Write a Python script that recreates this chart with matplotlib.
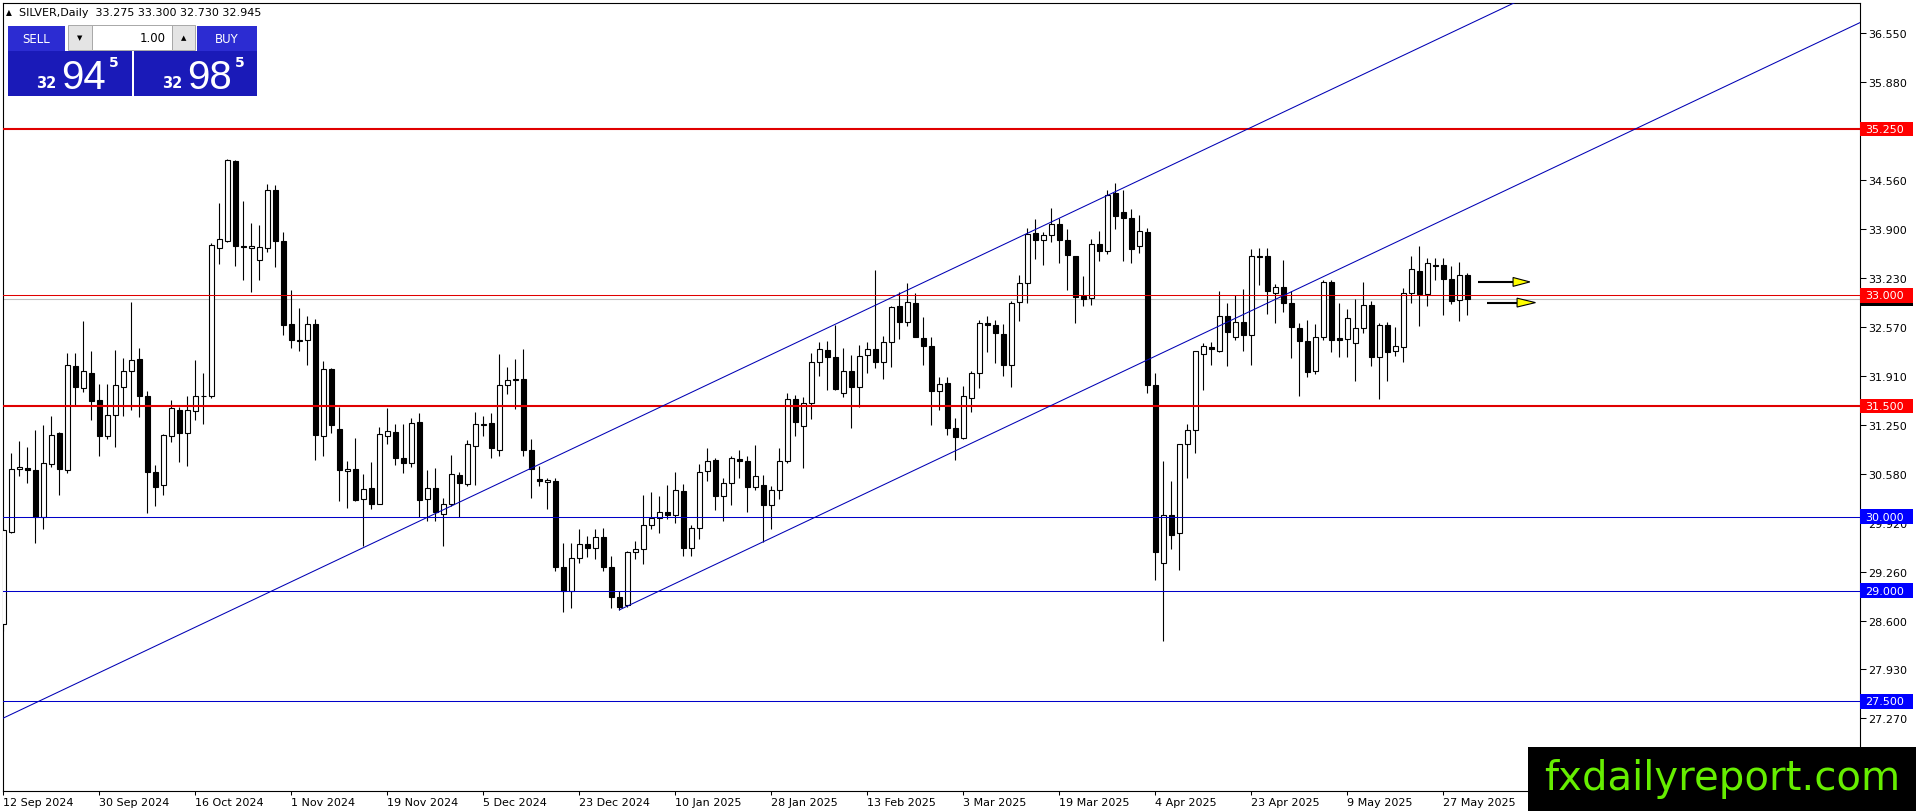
import matplotlib
matplotlib.use("Agg")
import matplotlib.pyplot as plt
from matplotlib.patches import Rectangle, Polygon
import matplotlib.transforms as mtransforms
import numpy as np

# ---------------- data (SILVER, Daily) ----------------
opens = [28.55, 29.80, 30.65, 30.66, 30.64, 30.00, 30.71, 31.13, 30.64, 32.04,
         31.75, 31.95, 31.58, 31.09, 31.38, 31.76, 31.97, 32.13, 31.63, 30.60,
         30.43, 31.10, 31.44, 31.13, 31.43, 31.64, 31.64, 33.64, 33.74, 34.82,
         33.66, 33.64, 33.47, 33.64, 34.42, 33.74, 32.61, 32.38, 32.39, 32.61,
         31.10, 32.00, 31.19, 30.62, 30.65, 30.24, 30.39, 30.18, 31.10, 31.15,
         30.80, 30.73, 31.28, 30.24, 30.39, 30.04, 30.17, 30.57, 30.45, 30.96,
         31.24, 31.27, 30.90, 31.78, 31.85, 31.86, 30.90, 30.51, 30.47, 30.48,
         29.32, 28.99, 29.44, 29.63, 29.58, 29.73, 29.32, 28.92, 28.80, 29.53,
         29.56, 29.89, 29.99, 30.06, 30.02, 30.35, 29.58, 29.85, 30.62, 30.77,
         30.28, 30.46, 30.78, 30.75, 30.40, 30.43, 30.16, 30.36, 30.75, 31.59,
         31.23, 31.54, 32.10, 32.26, 32.16, 31.67, 31.98, 31.76, 32.19, 32.27,
         32.09, 32.36, 32.85, 32.64, 32.90, 32.42, 32.31, 31.70, 31.81, 31.20,
         31.07, 31.61, 31.95, 32.62, 32.60, 32.48, 32.05, 32.91, 33.17, 33.84,
         33.75, 33.82, 33.97, 33.75, 33.53, 32.99, 32.96, 33.69, 33.60, 34.38,
         34.12, 34.05, 33.66, 33.86, 31.78, 29.38, 30.03, 29.78, 30.98, 31.17,
         32.20, 32.30, 32.25, 32.72, 32.44, 32.64, 32.46, 33.53, 33.53, 33.03,
         33.11, 32.90, 32.56, 32.38, 31.98, 32.43, 33.18, 32.42, 32.41, 32.35,
         32.56, 32.87, 32.17, 32.60, 32.24, 32.30, 33.03, 33.33, 33.01, 33.41,
         33.41, 33.22, 32.93, 33.275]
highs = [29.85, 30.86, 31.03, 30.94, 31.17, 31.24, 31.37, 31.15, 32.22, 32.22,
         32.65, 32.24, 31.80, 31.80, 32.26, 32.15, 32.91, 32.28, 31.70, 30.70,
         31.12, 31.58, 31.49, 31.63, 32.12, 31.95, 33.71, 34.25, 34.85, 34.83,
         34.28, 33.98, 33.95, 34.51, 34.49, 33.85, 33.07, 32.83, 32.72, 32.68,
         32.11, 32.01, 31.49, 30.76, 31.07, 30.58, 30.74, 31.21, 31.47, 31.26,
         31.25, 31.34, 31.41, 30.63, 30.66, 30.25, 30.84, 30.61, 31.04, 31.42,
         31.37, 31.40, 32.21, 32.03, 32.13, 32.27, 31.06, 30.69, 30.52, 30.52,
         29.65, 29.65, 29.83, 29.74, 29.84, 29.85, 29.47, 28.99, 29.54, 29.67,
         30.30, 30.33, 30.28, 30.43, 30.60, 30.45, 29.89, 30.71, 30.93, 30.79,
         30.53, 30.82, 30.91, 30.83, 30.97, 30.57, 30.42, 30.93, 31.68, 31.65,
         31.62, 32.22, 32.37, 32.38, 32.60, 32.28, 32.19, 32.32, 32.36, 33.34,
         32.45, 32.86, 33.05, 33.17, 33.03, 32.71, 32.44, 31.89, 31.89, 31.34,
         31.77, 31.97, 32.66, 32.72, 32.66, 32.61, 32.92, 33.27, 33.91, 34.03,
         33.86, 34.18, 34.05, 33.89, 33.53, 33.26, 33.76, 33.87, 34.42, 34.52,
         34.42, 34.17, 34.08, 33.91, 31.95, 30.75, 30.48, 30.98, 31.26, 32.24,
         32.35, 32.36, 33.06, 32.90, 33.00, 33.09, 33.63, 33.64, 33.64, 33.15,
         33.48, 33.06, 32.62, 32.67, 32.61, 33.20, 33.20, 32.90, 32.82, 32.95,
         33.18, 32.92, 32.62, 32.64, 32.57, 33.10, 33.53, 33.66, 33.51, 33.51,
         33.51, 33.39, 33.45, 33.300]
lows = [28.45, 29.78, 30.55, 30.46, 29.64, 29.84, 30.67, 30.30, 30.59, 31.51,
        31.69, 31.31, 30.83, 31.05, 30.94, 31.36, 31.45, 31.35, 30.05, 30.15,
        30.30, 31.01, 30.74, 30.69, 31.31, 31.26, 31.61, 33.42, 33.72, 33.40,
        33.20, 33.04, 33.20, 33.59, 33.38, 32.46, 32.28, 32.25, 32.05, 30.77,
        30.82, 31.14, 30.21, 30.12, 30.22, 29.60, 30.10, 30.18, 30.98, 30.70,
        30.59, 30.67, 30.00, 29.94, 29.94, 29.61, 30.14, 30.00, 30.42, 30.43,
        31.10, 30.79, 30.82, 31.66, 31.46, 30.83, 30.25, 30.42, 30.11, 29.27,
        28.71, 28.77, 29.38, 29.45, 29.43, 29.27, 28.76, 28.74, 28.78, 29.43,
        29.36, 29.83, 29.78, 29.97, 29.91, 29.47, 29.47, 29.70, 30.48, 30.09,
        29.95, 30.16, 30.52, 30.06, 30.36, 29.66, 29.83, 30.24, 30.73, 31.09,
        30.66, 31.32, 31.91, 31.71, 31.71, 31.62, 31.20, 31.48, 31.95, 32.02,
        31.87, 32.03, 32.41, 32.58, 32.43, 32.05, 31.24, 31.45, 31.11, 30.77,
        31.05, 31.42, 31.74, 32.23, 32.08, 31.90, 31.76, 32.65, 32.90, 33.49,
        33.41, 33.72, 33.44, 33.07, 32.62, 32.86, 32.87, 33.46, 33.56, 33.89,
        33.46, 33.44, 33.57, 31.67, 29.14, 28.32, 29.57, 29.28, 30.53, 30.87,
        31.71, 32.05, 32.23, 32.04, 32.39, 32.25, 32.06, 33.14, 32.74, 32.62,
        32.77, 32.15, 31.63, 31.89, 31.94, 32.40, 32.23, 32.17, 32.17, 31.84,
        32.49, 32.04, 31.60, 31.84, 32.18, 32.09, 32.89, 32.58, 32.86, 33.20,
        32.73, 32.88, 32.65, 32.730]
closes = [29.82, 30.65, 30.67, 30.63, 30.00, 30.73, 31.11, 30.65, 32.05, 31.76,
          31.97, 31.57, 31.09, 31.38, 31.78, 31.98, 32.12, 31.64, 30.61, 30.41,
          31.11, 31.47, 31.13, 31.45, 31.63, 31.63, 33.68, 33.76, 34.83, 33.66,
          33.65, 33.66, 33.65, 34.43, 33.74, 32.60, 32.39, 32.40, 32.61, 31.11,
          32.00, 31.24, 30.63, 30.65, 30.23, 30.37, 30.17, 31.12, 31.16, 30.80,
          30.73, 31.27, 30.23, 30.39, 30.06, 30.18, 30.58, 30.46, 30.98, 31.25,
          31.26, 30.93, 31.78, 31.85, 31.87, 30.91, 30.65, 30.48, 30.50, 29.32,
          28.99, 29.44, 29.63, 29.58, 29.73, 29.32, 28.92, 28.78, 29.52, 29.56,
          29.89, 29.99, 30.06, 30.02, 30.36, 29.58, 29.85, 30.60, 30.75, 30.28,
          30.46, 30.79, 30.75, 30.40, 30.55, 30.16, 30.36, 30.76, 31.59, 31.28,
          31.54, 32.10, 32.27, 32.16, 31.73, 31.98, 31.76, 32.18, 32.27, 32.10,
          32.36, 32.84, 32.64, 32.91, 32.43, 32.31, 31.70, 31.80, 31.20, 31.08,
          31.63, 31.95, 32.62, 32.59, 32.49, 32.05, 32.90, 33.17, 33.83, 33.75,
          33.82, 33.97, 33.75, 33.54, 32.98, 32.95, 33.69, 33.60, 34.36, 34.07,
          34.04, 33.63, 33.87, 31.79, 29.53, 30.02, 29.76, 30.98, 31.17, 32.24,
          32.31, 32.27, 32.72, 32.50, 32.64, 32.46, 33.53, 33.52, 33.06, 33.11,
          32.90, 32.57, 32.38, 31.96, 32.43, 33.18, 32.40, 32.40, 32.69, 32.56,
          32.87, 32.17, 32.60, 32.23, 32.31, 33.03, 33.35, 33.01, 33.44, 33.39,
          33.22, 32.92, 33.27, 32.945]

date_labels = ["12 Sep 2024", "30 Sep 2024", "16 Oct 2024", "1 Nov 2024",
               "19 Nov 2024", "5 Dec 2024", "23 Dec 2024", "10 Jan 2025",
               "28 Jan 2025", "13 Feb 2025", "3 Mar 2025", "19 Mar 2025",
               "4 Apr 2025", "23 Apr 2025", "9 May 2025", "27 May 2025"]
date_label_step = 12

price_ticks = [27.270, 27.933, 28.596, 29.259, 29.921, 30.584, 31.247, 31.910,
               32.573, 33.236, 33.899, 34.561, 35.224, 35.887, 36.550]
price_tick_labels = ["27.270", "27.930", "28.600", "29.260", "29.920", "30.580",
                     "31.250", "31.910", "32.570", "33.230", "33.900", "34.560",
                     "35.220", "35.880", "36.550"]

red_levels = [35.25, 33.00, 31.50]
red_level_widths = [1.5, 0.75, 1.5]
blue_levels = [30.00, 29.00, 27.50]
bid_price = 32.945

channel_upper_bars = [50.8, 145.0]
channel_upper_prices = [29.88, 34.71]
channel_lower_bar = 77
channel_lower_price = 28.74

arrow_tail_bars = [184.3, 185.4]
arrow_head_bars = [188.7, 189.2]
arrow_tip_bars = [190.8, 191.5]
arrow_prices = [33.18, 32.90]

header_text = "SILVER,Daily  33.275 33.300 32.730 32.945"
sell_price = ("32", "94", "5")
buy_price = ("32", "98", "5")
lot_text = "1.00"
watermark = "fxdailyreport.com"

# ---------------- figure ----------------
W, H = 1916, 812
fig = plt.figure(figsize=(W / 100, H / 100), dpi=100, facecolor="white")
ax_left, ax_right, ax_top, ax_bottom = 2.5, 1859.5, 4.0, 792.0
ax = fig.add_axes([ax_left / W, 1 - ax_bottom / H, (ax_right - ax_left) / W,
                   (ax_bottom - ax_top) / H])
ax.set_facecolor("white")

o = np.array(opens); h = np.array(highs); l = np.array(lows); c = np.array(closes)
x = np.arange(len(o))
up = c >= o
bottom = np.minimum(o, c)
height = np.maximum(np.abs(c - o), 0.004)

ax.vlines(x, l, h, color="black", lw=0.8, zorder=3)
ax.bar(x[up], height[up], bottom=bottom[up], width=0.56, color="white",
       edgecolor="black", linewidth=0.8, zorder=4)
ax.bar(x[~up], height[~up], bottom=bottom[~up], width=0.56, color="black",
       edgecolor="black", linewidth=0.8, zorder=4)

ax.set_xlim(-0.1, 232.0)
ax.set_ylim(26.288, 36.956)

# level lines
ax.axhline(bid_price, color="#c0c0c0", lw=0.8, zorder=2)
for lev, lw in zip(red_levels, red_level_widths):
    ax.axhline(lev, color="#e00000", lw=lw, zorder=5)
for lev in blue_levels:
    ax.axhline(lev, color="#0000c8", lw=0.75, zorder=5)

# channel
slope = (channel_upper_prices[1] - channel_upper_prices[0]) / (channel_upper_bars[1] - channel_upper_bars[0])
ux = np.array([-5.0, 240.0])
ax.plot(ux, channel_upper_prices[0] + slope * (ux - channel_upper_bars[0]),
        color="#0000b4", lw=0.75, zorder=5)
lx = np.array([channel_lower_bar, 240.0])
ax.plot(lx, channel_lower_price + slope * (lx - channel_lower_bar),
        color="#0000b4", lw=0.75, zorder=5)

# arrows
dh = 0.06
for t, hd, tp, p in zip(arrow_tail_bars, arrow_head_bars, arrow_tip_bars, arrow_prices):
    ax.plot([t, hd], [p, p], color="black", lw=1.5, zorder=6, solid_capstyle="butt")
    ax.add_patch(Polygon([(hd, p + dh), (hd, p - dh), (tp, p)], closed=True,
                         facecolor="#ffff00", edgecolor="black", lw=0.8, zorder=7))

# axes styling
for s in ax.spines.values():
    s.set_color("black")
    s.set_linewidth(0.8)
ax.yaxis.tick_right()
ax.set_yticks(price_ticks)
ax.set_yticklabels(price_tick_labels)
ax.tick_params(axis="y", direction="out", length=4, width=0.75, pad=2,
               labelsize=8, colors="black")
tick_pos = list(range(0, date_label_step * len(date_labels), date_label_step))
ax.set_xticks(tick_pos)
ax.set_xticklabels(date_labels, ha="left")
ax.tick_params(axis="x", direction="out", length=3, width=0.75, pad=1,
               labelsize=8, colors="black")

# price labels on the axis
trans = mtransforms.blended_transform_factory(ax.transAxes, ax.transData)
box_w = 53.0 / (ax_right - ax_left)
box_h = 0.20
def axis_label(price, text, fc, z, tc="white"):
    ax.add_patch(Rectangle((1.0, price - box_h / 2), box_w, box_h, transform=trans,
                           facecolor=fc, edgecolor="none", clip_on=False, zorder=z))
    ax.text(1.0 + 6.0 / (ax_right - ax_left), price, text, transform=trans,
            ha="left", va="center", fontsize=8, color=tc, clip_on=False,
            zorder=z + 0.5)

axis_label(bid_price + 0.015, "32.945", "black", 8)
for i, lev in enumerate(red_levels):
    axis_label(lev, f"{lev:.3f}", "#ff0000", 9 + i)
for i, lev in enumerate(blue_levels):
    axis_label(lev, f"{lev:.3f}", "#0000ff", 9 + i)

# ---------------- header and trading panel ----------------
def frect(x0, y0, x1, y1, **kw):
    fig.add_artist(Rectangle((x0 / W, 1 - y1 / H), (x1 - x0) / W, (y1 - y0) / H,
                             transform=fig.transFigure, **kw))

def ftext(xp, yp, s, **kw):
    fig.text(xp / W, 1 - yp / H, s, **kw)

ftext(6, 13, "\u25B2", fontsize=5.5, va="center", ha="left", color="black")
ftext(19, 13, header_text, fontsize=8, va="center", ha="left", color="black")

frect(8, 27, 65, 52, facecolor="#2c2cd2", edgecolor="none")
ftext(36, 39.5, "SELL", fontsize=8.5, color="white", ha="center", va="center")
frect(68, 26, 92, 51, facecolor="#e4e4e4", edgecolor="#a8a8a8", lw=0.7)
ftext(80, 38.5, "\u25BC", fontsize=5, color="black", ha="center", va="center")
frect(92, 26, 172, 51, facecolor="white", edgecolor="#a8a8a8", lw=0.7)
ftext(166, 38.5, lot_text, fontsize=8.5, color="black", ha="right", va="center")
frect(172, 26, 195, 51, facecolor="#e4e4e4", edgecolor="#a8a8a8", lw=0.7)
ftext(183.5, 38.5, "\u25B2", fontsize=5, color="black", ha="center", va="center")
frect(197, 27, 257, 52, facecolor="#2c2cd2", edgecolor="none")
ftext(227, 39.5, "BUY", fontsize=8.5, color="white", ha="center", va="center")

for (x0, x1), parts in zip([(8, 132), (134, 257)], [sell_price, buy_price]):
    frect(x0, 52, x1, 97, facecolor="#1a1ab8", edgecolor="none")
    ftext(x0 + 38, 83, parts[0], fontsize=10.5, fontweight="bold", color="white",
          ha="center", va="center")
    ftext(x0 + 53, 89, parts[1], fontsize=29, color="white", ha="left",
          va="baseline", family="Liberation Sans")
    ftext(x0 + 106, 63, parts[2], fontsize=10, fontweight="bold", color="white",
          ha="center", va="center")

# watermark
frect(1528, 748, 1916, 812, facecolor="black", edgecolor="none", zorder=10)
ftext(1722, 779, watermark, fontsize=29, color="#66ee00", ha="center",
      va="center", zorder=11)

fig.savefig("out.png", dpi=100, facecolor="white")
